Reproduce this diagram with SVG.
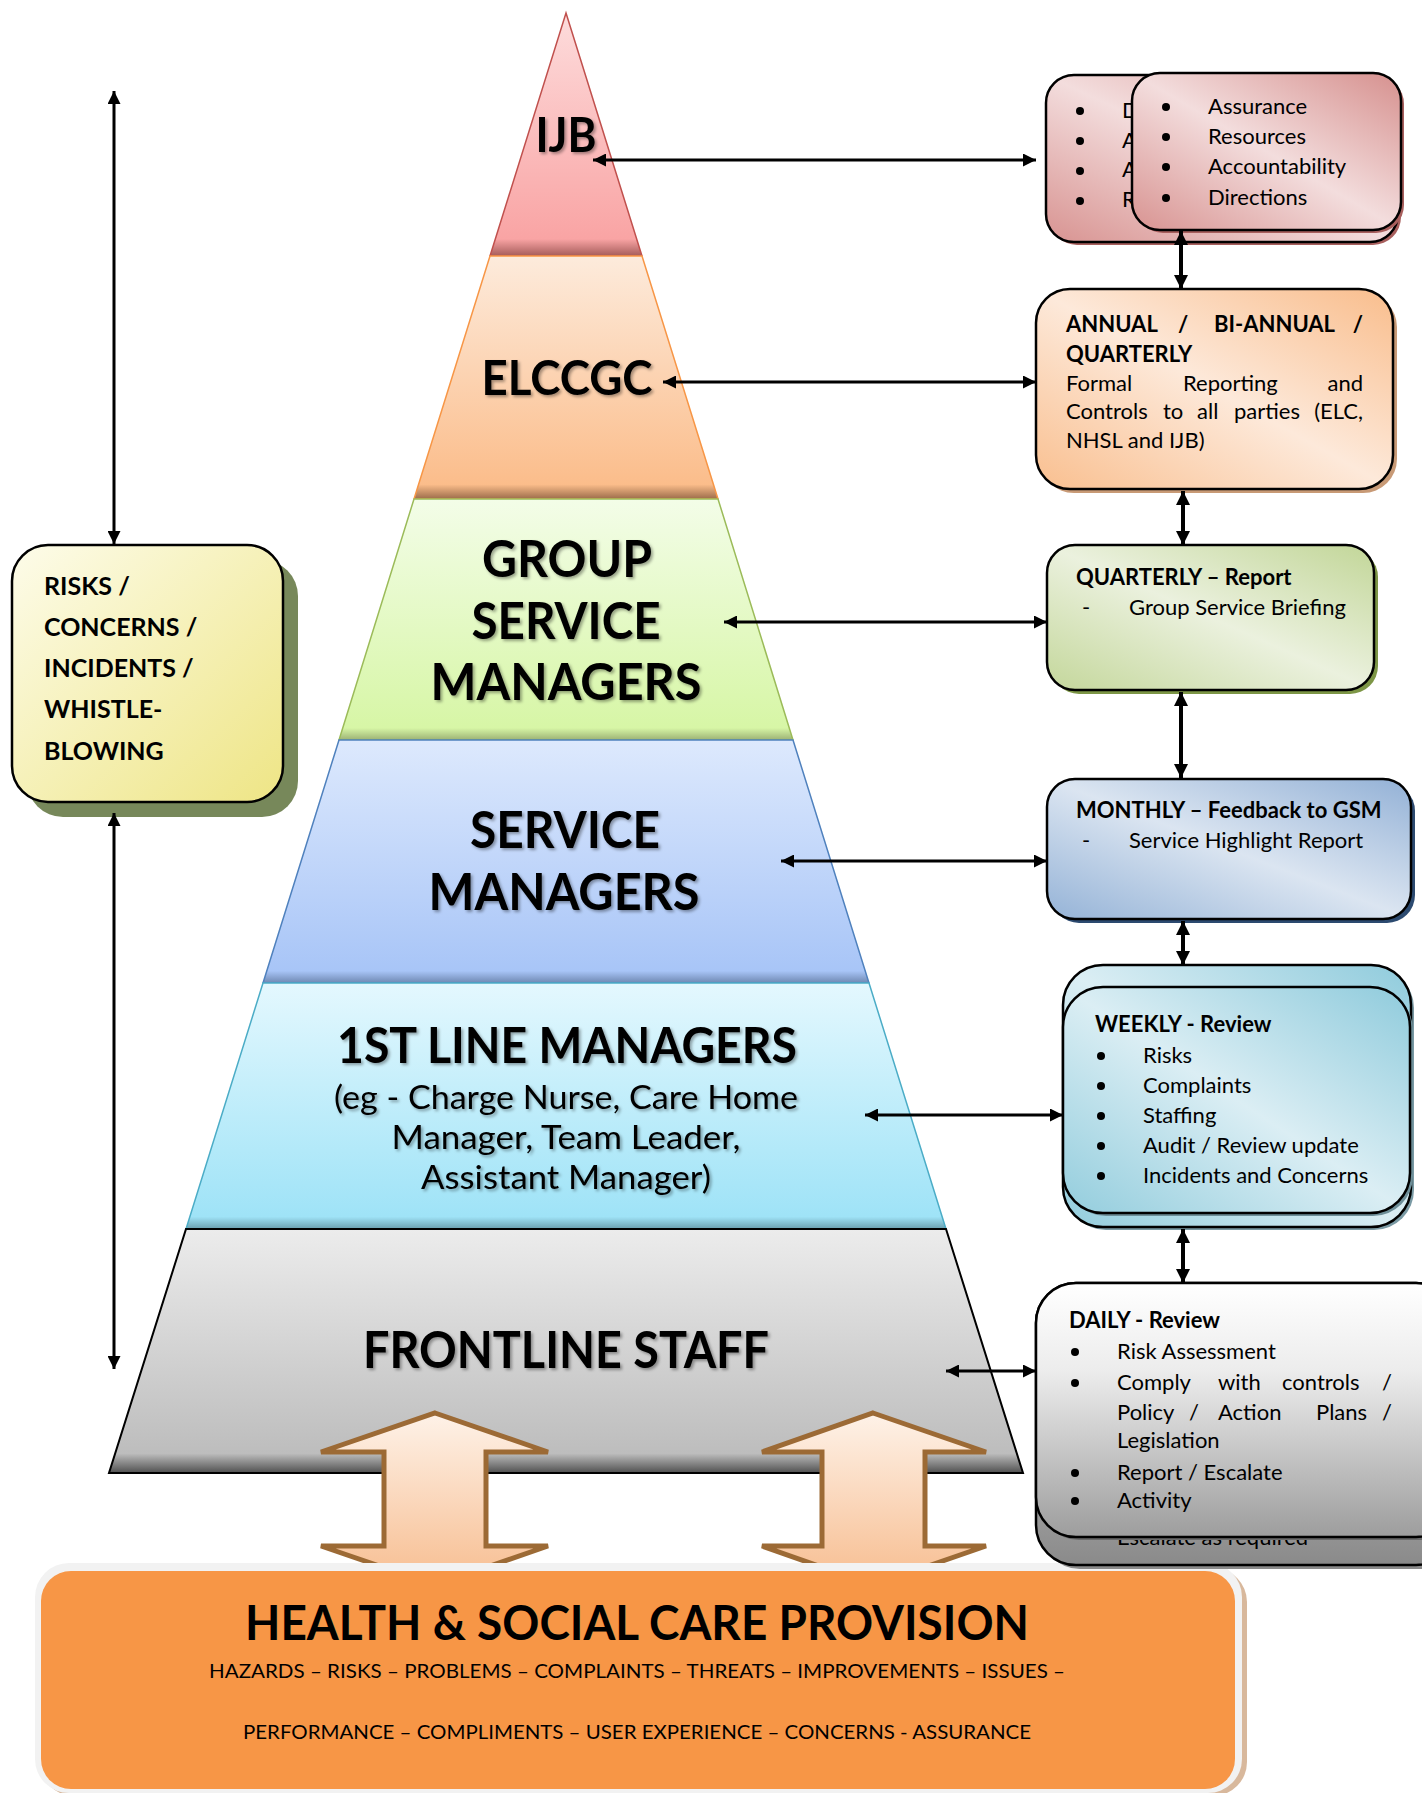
<svg xmlns="http://www.w3.org/2000/svg" width="1422" height="1793" viewBox="0 0 1422 1793">
<style>
.t{font-family:Lato,"Liberation Sans",sans-serif;fill:#000}
.b{font-weight:bold}
.pl{font-family:Lato,"Liberation Sans",sans-serif;font-weight:bold;fill:#000;text-anchor:middle;filter:url(#ts)}
.bx{stroke:#000;stroke-width:2.5}
.cn{stroke:#000;stroke-width:3;fill:none;marker-start:url(#ah);marker-end:url(#ah)}
.cv{stroke:#000;stroke-width:4;fill:none;marker-start:url(#av);marker-end:url(#av)}
.s{font-size:22px}
</style>
<defs>
<marker id="ah" viewBox="0 0 10 10" refX="10" refY="5" markerWidth="16" markerHeight="13" markerUnits="userSpaceOnUse" orient="auto-start-reverse"><path d="M0,0 L10,5 L0,10 z" fill="#000"/></marker>
<marker id="av" viewBox="0 0 10 10" refX="10" refY="5" markerWidth="14" markerHeight="16" markerUnits="userSpaceOnUse" orient="auto-start-reverse"><path d="M0,0 L10,5 L0,10 z" fill="#000"/></marker>
<filter id="ts" x="-10%" y="-20%" width="130%" height="150%"><feDropShadow dx="2" dy="2" stdDeviation="1.5" flood-color="#000" flood-opacity="0.35"/></filter>
<linearGradient id="gIJB" x1="0" y1="0" x2="0" y2="1"><stop offset="0" stop-color="#fddcdc"/><stop offset="0.93" stop-color="#f9a4a4"/><stop offset="1" stop-color="#a55c5a"/></linearGradient>
<linearGradient id="gEL" x1="0" y1="0" x2="0" y2="1"><stop offset="0" stop-color="#fdebdc"/><stop offset="0.94" stop-color="#fbbd8b"/><stop offset="1" stop-color="#9c6c4a"/></linearGradient>
<linearGradient id="gGS" x1="0" y1="0" x2="0" y2="1"><stop offset="0" stop-color="#f3fde8"/><stop offset="0.95" stop-color="#d7f6a6"/><stop offset="1" stop-color="#9cb274"/></linearGradient>
<linearGradient id="gSM" x1="0" y1="0" x2="0" y2="1"><stop offset="0" stop-color="#dde9fd"/><stop offset="0.95" stop-color="#a8c5f7"/><stop offset="1" stop-color="#6f88b2"/></linearGradient>
<linearGradient id="g1L" x1="0" y1="0" x2="0" y2="1"><stop offset="0" stop-color="#e4f8fe"/><stop offset="0.95" stop-color="#9fe3f7"/><stop offset="1" stop-color="#6a9fae"/></linearGradient>
<linearGradient id="gFL" x1="0" y1="0" x2="0" y2="1"><stop offset="0" stop-color="#ececec"/><stop offset="0.92" stop-color="#bdbdbd"/><stop offset="1" stop-color="#505050"/></linearGradient>
<linearGradient id="bPk" x1="1" y1="0" x2="0" y2="1"><stop offset="0" stop-color="#d6908e"/><stop offset="0.5" stop-color="#f3dddd"/><stop offset="1" stop-color="#d89391"/></linearGradient>
<linearGradient id="bPe" x1="1" y1="0" x2="0" y2="1"><stop offset="0" stop-color="#f9bd8c"/><stop offset="0.5" stop-color="#fde9da"/><stop offset="1" stop-color="#f9bf8f"/></linearGradient>
<linearGradient id="bGr" x1="1" y1="0" x2="0" y2="1"><stop offset="0" stop-color="#c2d698"/><stop offset="0.5" stop-color="#ebf1de"/><stop offset="1" stop-color="#c4d79b"/></linearGradient>
<linearGradient id="bBl" x1="1" y1="0" x2="0" y2="1"><stop offset="0" stop-color="#93b1d6"/><stop offset="0.5" stop-color="#dbe5f1"/><stop offset="1" stop-color="#95b3d7"/></linearGradient>
<linearGradient id="bTe" x1="1" y1="0" x2="0" y2="1"><stop offset="0" stop-color="#8fcbdc"/><stop offset="0.5" stop-color="#dbeef4"/><stop offset="1" stop-color="#93cddd"/></linearGradient>
<linearGradient id="bGy" x1="0" y1="0" x2="0" y2="1"><stop offset="0" stop-color="#ffffff"/><stop offset="0.35" stop-color="#ececec"/><stop offset="1" stop-color="#9d9d9d"/></linearGradient>
<linearGradient id="bGy2" x1="0" y1="0" x2="0" y2="1"><stop offset="0" stop-color="#e0e0e0"/><stop offset="1" stop-color="#8a8a8a"/></linearGradient>
<linearGradient id="bYe" x1="0" y1="0" x2="1" y2="1"><stop offset="0" stop-color="#fdfcea"/><stop offset="1" stop-color="#eee585"/></linearGradient>
<linearGradient id="gArr" x1="0" y1="0" x2="0" y2="1"><stop offset="0" stop-color="#fef2e8"/><stop offset="1" stop-color="#f7bd90"/></linearGradient>
</defs>

<g id="pyramid">
<g id="tier-ijb"><polygon points="566,13 642,256 490,256" fill="url(#gIJB)" stroke="#c0504d" stroke-width="1.5"/><text class="pl" x="566" y="152" font-size="48" textLength="61" lengthAdjust="spacingAndGlyphs">IJB</text></g>
<g id="tier-elccgc"><polygon points="490,256 642,256 718,499 414,499" fill="url(#gEL)" stroke="#f79646" stroke-width="1.5"/><text class="pl" x="567" y="395" font-size="48" textLength="171" lengthAdjust="spacingAndGlyphs">ELCCGC</text></g>
<g id="tier-gsm"><polygon points="414,499 718,499 793,740 339,740" fill="url(#gGS)" stroke="#9bbb59" stroke-width="1.5"/>
<text class="pl" x="567" y="577" font-size="52" textLength="170" lengthAdjust="spacingAndGlyphs">GROUP</text>
<text class="pl" x="566" y="639" font-size="52" textLength="189" lengthAdjust="spacingAndGlyphs">SERVICE</text>
<text class="pl" x="566" y="700" font-size="52" textLength="271" lengthAdjust="spacingAndGlyphs">MANAGERS</text></g>
<g id="tier-sm"><polygon points="339,740 793,740 869,983 263,983" fill="url(#gSM)" stroke="#4f81bd" stroke-width="1.5"/>
<text class="pl" x="565" y="848" font-size="52" textLength="190" lengthAdjust="spacingAndGlyphs">SERVICE</text>
<text class="pl" x="564" y="910" font-size="52" textLength="271" lengthAdjust="spacingAndGlyphs">MANAGERS</text></g>
<g id="tier-1st"><polygon points="263,983 869,983 946,1229 186,1229" fill="url(#g1L)" stroke="#4bacc6" stroke-width="1.5"/>
<text class="pl" x="567" y="1063" font-size="50" textLength="460" lengthAdjust="spacingAndGlyphs">1ST LINE MANAGERS</text>
<text class="pl" x="566" y="1109" font-size="33" style="font-weight:normal" textLength="464" lengthAdjust="spacingAndGlyphs">(eg - Charge Nurse, Care Home</text>
<text class="pl" x="566" y="1149" font-size="33" style="font-weight:normal" textLength="349" lengthAdjust="spacingAndGlyphs">Manager, Team Leader,</text>
<text class="pl" x="566" y="1189" font-size="33" style="font-weight:normal" textLength="290" lengthAdjust="spacingAndGlyphs">Assistant Manager)</text></g>
<g id="tier-frontline"><polygon points="186,1229 946,1229 1023,1473 109,1473" fill="url(#gFL)" stroke="#000" stroke-width="2"/>
<text class="pl" x="566" y="1368" font-size="52" textLength="406" lengthAdjust="spacingAndGlyphs">FRONTLINE STAFF</text></g>
</g>

<g id="block-arrows">
<path d="M435,1413 L548,1452 L486,1452 L486,1546 L548,1546 L435,1585 L321,1546 L384,1546 L384,1452 L321,1452 Z" fill="url(#gArr)" stroke="#9c6a35" stroke-width="5" stroke-linejoin="miter"/>
<path d="M873,1413 L986,1452 L925,1452 L925,1546 L986,1546 L873,1585 L762,1546 L822,1546 L822,1452 L762,1452 Z" fill="url(#gArr)" stroke="#9c6a35" stroke-width="5" stroke-linejoin="miter"/>
</g>

<g id="provision">
<rect x="40" y="1568" width="1207" height="228" rx="34" fill="#d8b89c"/>
<rect x="35" y="1563" width="1207" height="230" rx="34" fill="#f2f2f2"/>
<rect x="41" y="1571" width="1194" height="218" rx="30" fill="#f79646"/>
<text class="t b" x="637" y="1640" font-size="47" text-anchor="middle" textLength="784" lengthAdjust="spacingAndGlyphs">HEALTH &amp; SOCIAL CARE PROVISION</text>
<text class="t" x="637" y="1678" font-size="20" text-anchor="middle" textLength="856" lengthAdjust="spacingAndGlyphs">HAZARDS – RISKS – PROBLEMS – COMPLAINTS – THREATS – IMPROVEMENTS – ISSUES –</text>
<text class="t" x="637" y="1739" font-size="20" text-anchor="middle" textLength="788" lengthAdjust="spacingAndGlyphs">PERFORMANCE – COMPLIMENTS – USER EXPERIENCE – CONCERNS - ASSURANCE</text>
</g>

<g id="risks-box">
<rect x="27" y="560" width="271" height="257" rx="36" fill="#77885a"/>
<rect class="bx" x="12" y="545" width="271" height="257" rx="36" fill="url(#bYe)"/>
<text class="t b" font-size="25" x="44" y="595">RISKS /</text>
<text class="t b" font-size="25" x="44" y="636">CONCERNS /</text>
<text class="t b" font-size="25" x="44" y="677">INCIDENTS /</text>
<text class="t b" font-size="25" x="44" y="718">WHISTLE-</text>
<text class="t b" font-size="25" x="44" y="760">BLOWING</text>
</g>

<g id="ijb-box">
<rect x="1049" y="78" width="352" height="167" rx="28" fill="#a85f5d"/>
<rect class="bx" x="1046" y="75" width="352" height="167" rx="28" fill="url(#bPk)"/>
<g class="t s"><circle cx="1080" cy="111" r="4"/><circle cx="1080" cy="141" r="4"/><circle cx="1080" cy="171" r="4"/><circle cx="1080" cy="201" r="4"/>
<text x="1122" y="118">D</text><text x="1122" y="148">A</text><text x="1122" y="177">A</text><text x="1122" y="207">R</text></g>
<rect x="1135" y="76" width="269" height="157" rx="28" fill="#a85f5d"/>
<rect class="bx" x="1132" y="73" width="269" height="157" rx="28" fill="url(#bPk)"/>
<g class="t s"><circle cx="1166" cy="107" r="4"/><circle cx="1166" cy="137" r="4"/><circle cx="1166" cy="167" r="4"/><circle cx="1166" cy="198" r="4"/>
<text x="1208" y="114">Assurance</text><text x="1208" y="144">Resources</text><text x="1208" y="174">Accountability</text><text x="1208" y="205">Directions</text></g>
</g>

<g id="annual-box">
<rect x="1040" y="293" width="357" height="200" rx="34" fill="#c89a76"/>
<rect class="bx" x="1036" y="289" width="357" height="200" rx="34" fill="url(#bPe)"/>
<g class="t s">
<text class="b" x="1066" y="332">ANNUAL</text><text class="b" x="1178" y="332">/</text><text class="b" x="1214" y="332">BI-ANNUAL</text><text class="b" x="1363" y="332" text-anchor="end">/</text>
<text class="b" x="1066" y="362">QUARTERLY</text>
<text x="1066" y="391">Formal</text><text x="1183" y="391">Reporting</text><text x="1363" y="391" text-anchor="end">and</text>
<text x="1066" y="419">Controls</text><text x="1163" y="419">to</text><text x="1197" y="419">all</text><text x="1234" y="419">parties</text><text x="1363" y="419" text-anchor="end">(ELC,</text>
<text x="1066" y="448">NHSL and IJB)</text>
</g>
</g>

<g id="quarterly-box">
<rect x="1051" y="549" width="327" height="145" rx="28" fill="#7d9646"/>
<rect class="bx" x="1047" y="545" width="327" height="145" rx="28" fill="url(#bGr)"/>
<g class="t s"><text class="b" x="1076" y="585">QUARTERLY – Report</text><text x="1082" y="615">-</text><text x="1129" y="615">Group Service Briefing</text></g>
</g>

<g id="monthly-box">
<rect x="1051" y="783" width="364" height="140" rx="28" fill="#2c4a70"/>
<rect class="bx" x="1047" y="779" width="364" height="140" rx="28" fill="url(#bBl)"/>
<g class="t s"><text class="b" x="1076" y="818">MONTHLY – Feedback to GSM</text><text x="1082" y="848">-</text><text x="1129" y="848">Service Highlight Report</text></g>
</g>

<g id="weekly-box">
<rect x="1066" y="968" width="348" height="262" rx="40" fill="#7a9aa4"/>
<rect class="bx" x="1063" y="965" width="348" height="262" rx="40" fill="url(#bTe)"/>
<rect x="1066" y="990" width="347" height="226" rx="40" fill="#6e8f99"/>
<rect class="bx" x="1063" y="987" width="347" height="226" rx="40" fill="url(#bTe)"/>
<g class="t s">
<text class="b" x="1095" y="1032">WEEKLY - Review</text>
<circle cx="1101" cy="1056" r="4"/><circle cx="1101" cy="1086" r="4"/><circle cx="1101" cy="1116" r="4"/><circle cx="1101" cy="1146" r="4"/><circle cx="1101" cy="1176" r="4"/>
<text x="1143" y="1063">Risks</text><text x="1143" y="1093">Complaints</text><text x="1143" y="1123">Staffing</text><text x="1143" y="1153">Audit / Review update</text><text x="1143" y="1183">Incidents and Concerns</text>
</g>
</g>

<g id="daily-box">
<rect x="1040" y="1287" width="420" height="282" rx="40" fill="#8a8a8a"/>
<rect class="bx" x="1036" y="1283" width="420" height="282" rx="40" fill="url(#bGy2)"/>
<text class="t s" x="1117" y="1545">Escalate as required</text>
<rect x="1039" y="1286" width="420" height="254" rx="40" fill="#6a6a6a"/>
<rect class="bx" x="1036" y="1283" width="420" height="254" rx="40" fill="url(#bGy)"/>
<g class="t s">
<text class="b" x="1069" y="1328">DAILY - Review</text>
<circle cx="1075" cy="1352" r="4"/><circle cx="1075" cy="1383" r="4"/><circle cx="1075" cy="1473" r="4"/><circle cx="1075" cy="1501" r="4"/>
<text x="1117" y="1359">Risk Assessment</text>
<text x="1117" y="1390">Comply</text><text x="1218" y="1390">with</text><text x="1282" y="1390">controls</text><text x="1392" y="1390" text-anchor="end">/</text>
<text x="1117" y="1420">Policy</text><text x="1189" y="1420">/</text><text x="1218" y="1420">Action</text><text x="1316" y="1420">Plans</text><text x="1392" y="1420" text-anchor="end">/</text>
<text x="1117" y="1448">Legislation</text>
<text x="1117" y="1480">Report / Escalate</text>
<text x="1117" y="1508">Activity</text>
</g>
</g>

<g id="connectors">
<line class="cn" x1="593" y1="160" x2="1036" y2="160"/>
<line class="cn" x1="663" y1="382" x2="1036" y2="382"/>
<line class="cn" x1="724" y1="622" x2="1047" y2="622"/>
<line class="cn" x1="781" y1="861" x2="1047" y2="861"/>
<line class="cn" x1="865" y1="1115" x2="1063" y2="1115"/>
<line class="cn" x1="946" y1="1371" x2="1036" y2="1371"/>
<line class="cn" x1="114" y1="91" x2="114" y2="544"/>
<line class="cn" x1="114" y1="813" x2="114" y2="1369"/>
<line class="cv" x1="1181" y1="231" x2="1181" y2="289"/>
<line class="cv" x1="1183" y1="491" x2="1183" y2="545"/>
<line class="cv" x1="1181" y1="692" x2="1181" y2="778"/>
<line class="cv" x1="1183" y1="921" x2="1183" y2="965"/>
<line class="cv" x1="1183" y1="1229" x2="1183" y2="1283"/>
</g>
</svg>
